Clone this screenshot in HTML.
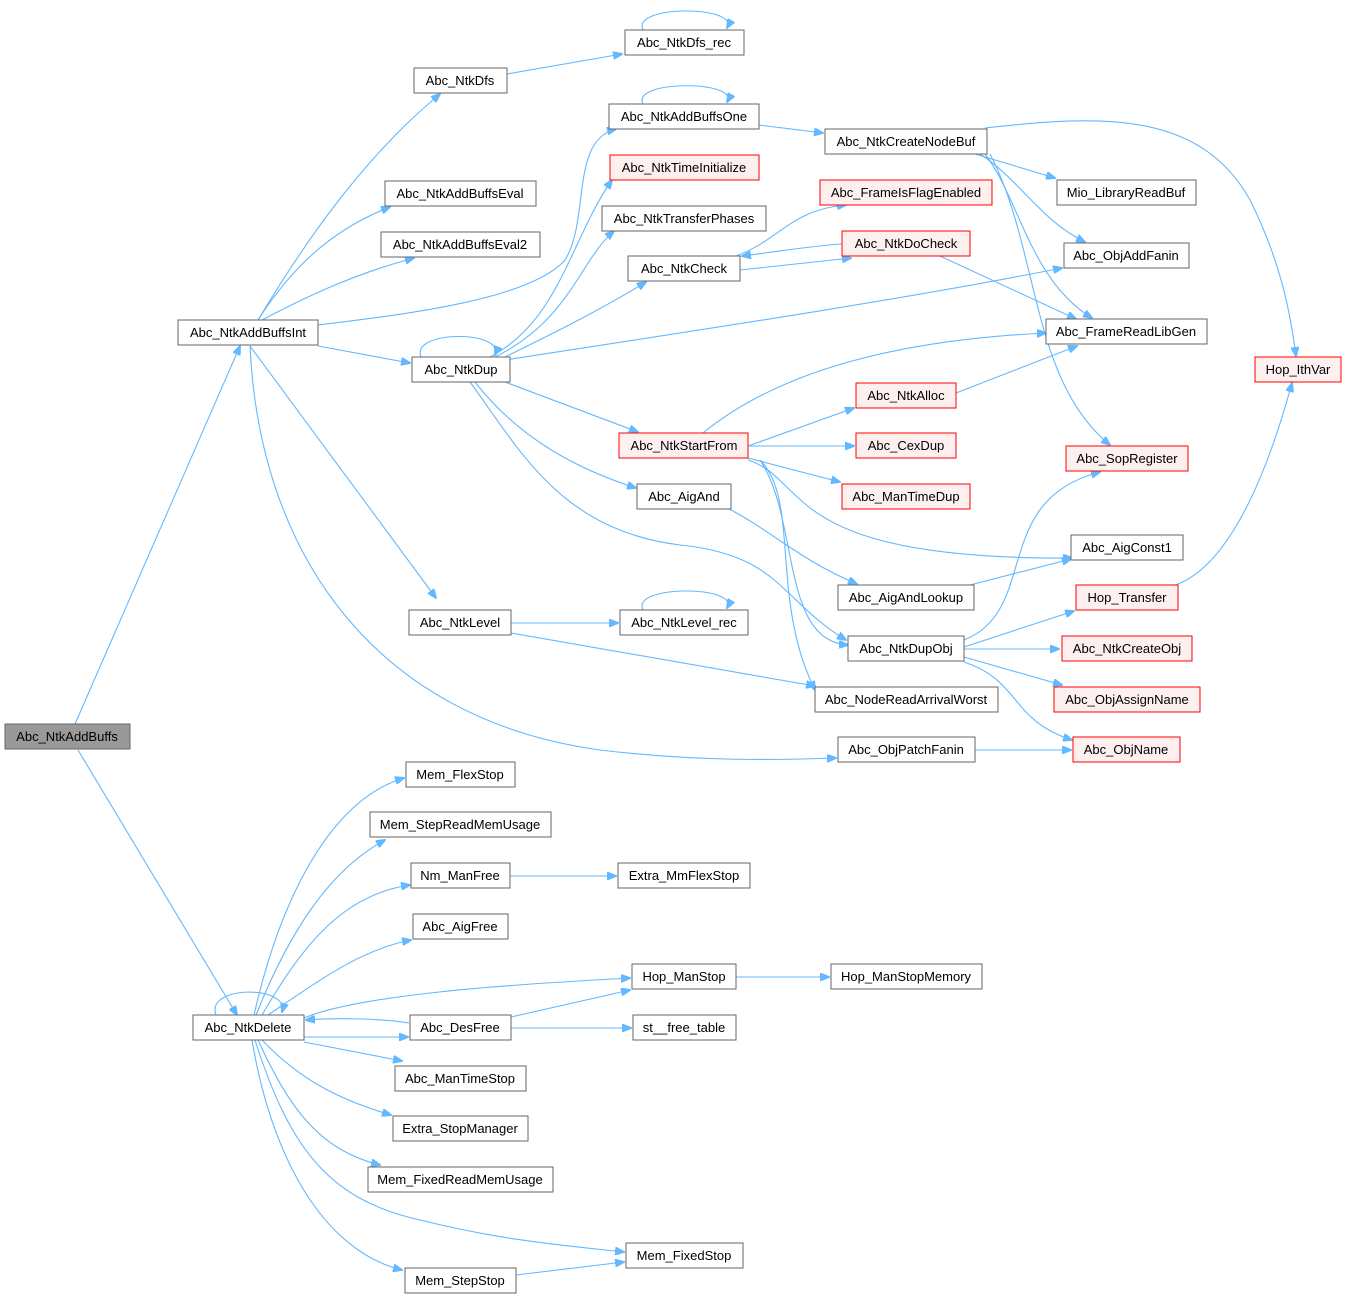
<!DOCTYPE html>
<html><head><meta charset="utf-8"><style>
html,body{margin:0;padding:0;background:#fff;}
svg{display:block;}
text{font-family:"Liberation Sans",Arial,sans-serif;font-size:13px;fill:#000;}
.n rect{fill:#fff;stroke:#666;stroke-width:1;}
.r rect{fill:#fff0f0;stroke:#f00;stroke-width:1;}
.g rect{fill:#999;stroke:#666;}
path{fill:none;stroke:#63b8ff;stroke-width:1.1;}
</style></head><body>
<svg width="1347" height="1300" viewBox="0 0 1347 1300" xmlns="http://www.w3.org/2000/svg">
<defs><marker id="a" markerWidth="10" markerHeight="8" refX="9" refY="4" orient="auto" markerUnits="userSpaceOnUse"><path d="M0,0 L10,4 L0,8 z" style="fill:#63b8ff;stroke:#63b8ff"/></marker></defs>
<g marker-end="url(#a)">
<path d="M75,724 L240,346"/>
<path d="M78,750 L237,1015"/>
<path d="M258,320 C300,250 360,160 440,94"/>
<path d="M258,320 C290,270 330,230 390,207"/>
<path d="M262,320 C300,300 350,275 414,258"/>
<path d="M318,325 C400,315 530,300 565,260 C590,220 570,140 616,129"/>
<path d="M318,346 L410,363"/>
<path d="M250,346 L436,598"/>
<path d="M250,346 C260,560 380,720 600,750 C700,762 780,760 836,758"/>
<path d="M507,74 L622,54"/>
<path d="M643,30 C630,5 740,5 727,28"/>
<path d="M643,104 C630,80 740,80 727,102"/>
<path d="M759,125 L823,133"/>
<path d="M985,128 C1100,115 1200,110 1250,200 C1280,260 1290,310 1296,356"/>
<path d="M975,154 L1055,178"/>
<path d="M980,154 C1020,180 1040,220 1085,242"/>
<path d="M985,154 C1020,200 1030,280 1092,318"/>
<path d="M990,154 C1040,250 1030,380 1110,445"/>
<path d="M421,357 C410,330 505,330 495,355"/>
<path d="M490,357 C560,320 570,240 612,180"/>
<path d="M495,357 C570,320 580,260 614,231"/>
<path d="M505,357 C560,330 600,310 646,282"/>
<path d="M505,360 C700,330 900,300 1062,268"/>
<path d="M505,382 L638,432"/>
<path d="M475,382 C520,440 580,470 636,488"/>
<path d="M470,382 C520,450 560,530 680,545 C780,555 780,600 846,640"/>
<path d="M740,270 L851,258"/>
<path d="M736,256 C780,240 790,210 846,205"/>
<path d="M842,244 C810,246 790,250 742,256"/>
<path d="M940,256 L1076,319"/>
<path d="M703,433 C780,370 900,340 1046,333"/>
<path d="M748,446 L854,408"/>
<path d="M748,446 L854,446"/>
<path d="M748,458 L840,482"/>
<path d="M748,460 C810,480 780,560 1072,558"/>
<path d="M760,460 C800,520 780,640 848,645"/>
<path d="M760,460 C800,500 770,600 815,690"/>
<path d="M956,393 L1077,346"/>
<path d="M729,509 C770,530 800,560 857,584"/>
<path d="M970,585 L1071,559"/>
<path d="M964,640 C1040,610 990,500 1100,472"/>
<path d="M964,647 L1074,611"/>
<path d="M964,649 L1059,649"/>
<path d="M964,657 L1062,685"/>
<path d="M964,662 C1020,680 1010,720 1072,740"/>
<path d="M1175,585 C1220,570 1260,500 1292,383"/>
<path d="M511,623 L618,623"/>
<path d="M643,610 C630,585 740,585 727,608"/>
<path d="M511,633 L815,686"/>
<path d="M975,750 L1071,750"/>
<path d="M254,1015 C280,900 330,800 404,778"/>
<path d="M256,1015 C290,930 330,870 385,840"/>
<path d="M262,1015 C300,950 340,895 410,885"/>
<path d="M268,1015 C320,980 360,950 411,940"/>
<path d="M304,1018 C360,995 500,985 630,978"/>
<path d="M409,1023 C380,1018 330,1018 306,1020"/>
<path d="M304,1037 L408,1037"/>
<path d="M304,1042 L402,1061"/>
<path d="M262,1040 C300,1080 340,1100 391,1115"/>
<path d="M258,1040 C290,1110 320,1150 380,1165"/>
<path d="M255,1040 C290,1150 330,1200 420,1220 C500,1240 560,1245 624,1252"/>
<path d="M252,1040 C270,1150 320,1250 402,1270"/>
<path d="M216,1015 C205,985 290,985 282,1012"/>
<path d="M510,876 L616,876"/>
<path d="M511,1017 L630,990"/>
<path d="M511,1028 L631,1028"/>
<path d="M736,977 L829,977"/>
<path d="M516,1275 L624,1262"/>
</g>
<g class="g"><rect x="5" y="724" width="125" height="25"/><text x="67" y="741" text-anchor="middle">Abc_NtkAddBuffs</text></g>
<g>
<g class="n"><rect x="178" y="320" width="140" height="25"/><text x="248" y="337" text-anchor="middle">Abc_NtkAddBuffsInt</text></g>
<g class="n"><rect x="193" y="1015" width="111" height="25"/><text x="248" y="1032" text-anchor="middle">Abc_NtkDelete</text></g>
<g class="n"><rect x="414" y="68" width="93" height="25"/><text x="460" y="85" text-anchor="middle">Abc_NtkDfs</text></g>
<g class="n"><rect x="625" y="30" width="119" height="25"/><text x="684" y="47" text-anchor="middle">Abc_NtkDfs_rec</text></g>
<g class="n"><rect x="385" y="181" width="151" height="25"/><text x="460" y="198" text-anchor="middle">Abc_NtkAddBuffsEval</text></g>
<g class="n"><rect x="381" y="232" width="159" height="25"/><text x="460" y="249" text-anchor="middle">Abc_NtkAddBuffsEval2</text></g>
<g class="n"><rect x="609" y="104" width="150" height="25"/><text x="684" y="121" text-anchor="middle">Abc_NtkAddBuffsOne</text></g>
<g class="r"><rect x="610" y="155" width="149" height="25"/><text x="684" y="172" text-anchor="middle">Abc_NtkTimeInitialize</text></g>
<g class="n"><rect x="602" y="206" width="164" height="25"/><text x="684" y="223" text-anchor="middle">Abc_NtkTransferPhases</text></g>
<g class="n"><rect x="628" y="256" width="112" height="25"/><text x="684" y="273" text-anchor="middle">Abc_NtkCheck</text></g>
<g class="n"><rect x="412" y="357" width="98" height="25"/><text x="461" y="374" text-anchor="middle">Abc_NtkDup</text></g>
<g class="r"><rect x="619" y="433" width="129" height="25"/><text x="684" y="450" text-anchor="middle">Abc_NtkStartFrom</text></g>
<g class="n"><rect x="637" y="484" width="94" height="25"/><text x="684" y="501" text-anchor="middle">Abc_AigAnd</text></g>
<g class="n"><rect x="409" y="610" width="102" height="25"/><text x="460" y="627" text-anchor="middle">Abc_NtkLevel</text></g>
<g class="n"><rect x="620" y="610" width="128" height="25"/><text x="684" y="627" text-anchor="middle">Abc_NtkLevel_rec</text></g>
<g class="n"><rect x="825" y="129" width="162" height="25"/><text x="906" y="146" text-anchor="middle">Abc_NtkCreateNodeBuf</text></g>
<g class="r"><rect x="820" y="180" width="172" height="25"/><text x="906" y="197" text-anchor="middle">Abc_FrameIsFlagEnabled</text></g>
<g class="r"><rect x="842" y="231" width="128" height="25"/><text x="906" y="248" text-anchor="middle">Abc_NtkDoCheck</text></g>
<g class="r"><rect x="856" y="383" width="100" height="25"/><text x="906" y="400" text-anchor="middle">Abc_NtkAlloc</text></g>
<g class="r"><rect x="856" y="433" width="100" height="25"/><text x="906" y="450" text-anchor="middle">Abc_CexDup</text></g>
<g class="r"><rect x="842" y="484" width="128" height="25"/><text x="906" y="501" text-anchor="middle">Abc_ManTimeDup</text></g>
<g class="n"><rect x="838" y="585" width="136" height="25"/><text x="906" y="602" text-anchor="middle">Abc_AigAndLookup</text></g>
<g class="n"><rect x="848" y="636" width="116" height="25"/><text x="906" y="653" text-anchor="middle">Abc_NtkDupObj</text></g>
<g class="n"><rect x="815" y="687" width="183" height="25"/><text x="906" y="704" text-anchor="middle">Abc_NodeReadArrivalWorst</text></g>
<g class="n"><rect x="838" y="737" width="137" height="25"/><text x="906" y="754" text-anchor="middle">Abc_ObjPatchFanin</text></g>
<g class="n"><rect x="1057" y="180" width="139" height="25"/><text x="1126" y="197" text-anchor="middle">Mio_LibraryReadBuf</text></g>
<g class="n"><rect x="1064" y="243" width="125" height="25"/><text x="1126" y="260" text-anchor="middle">Abc_ObjAddFanin</text></g>
<g class="n"><rect x="1046" y="319" width="161" height="25"/><text x="1126" y="336" text-anchor="middle">Abc_FrameReadLibGen</text></g>
<g class="r"><rect x="1066" y="446" width="122" height="25"/><text x="1127" y="463" text-anchor="middle">Abc_SopRegister</text></g>
<g class="n"><rect x="1071" y="535" width="112" height="25"/><text x="1127" y="552" text-anchor="middle">Abc_AigConst1</text></g>
<g class="r"><rect x="1076" y="585" width="102" height="25"/><text x="1127" y="602" text-anchor="middle">Hop_Transfer</text></g>
<g class="r"><rect x="1062" y="636" width="130" height="25"/><text x="1127" y="653" text-anchor="middle">Abc_NtkCreateObj</text></g>
<g class="r"><rect x="1054" y="687" width="146" height="25"/><text x="1127" y="704" text-anchor="middle">Abc_ObjAssignName</text></g>
<g class="r"><rect x="1073" y="737" width="107" height="25"/><text x="1126" y="754" text-anchor="middle">Abc_ObjName</text></g>
<g class="r"><rect x="1255" y="357" width="86" height="25"/><text x="1298" y="374" text-anchor="middle">Hop_IthVar</text></g>
<g class="n"><rect x="406" y="762" width="109" height="25"/><text x="460" y="779" text-anchor="middle">Mem_FlexStop</text></g>
<g class="n"><rect x="370" y="812" width="181" height="25"/><text x="460" y="829" text-anchor="middle">Mem_StepReadMemUsage</text></g>
<g class="n"><rect x="411" y="863" width="99" height="25"/><text x="460" y="880" text-anchor="middle">Nm_ManFree</text></g>
<g class="n"><rect x="618" y="863" width="132" height="25"/><text x="684" y="880" text-anchor="middle">Extra_MmFlexStop</text></g>
<g class="n"><rect x="413" y="914" width="95" height="25"/><text x="460" y="931" text-anchor="middle">Abc_AigFree</text></g>
<g class="n"><rect x="632" y="964" width="104" height="25"/><text x="684" y="981" text-anchor="middle">Hop_ManStop</text></g>
<g class="n"><rect x="831" y="964" width="151" height="25"/><text x="906" y="981" text-anchor="middle">Hop_ManStopMemory</text></g>
<g class="n"><rect x="410" y="1015" width="101" height="25"/><text x="460" y="1032" text-anchor="middle">Abc_DesFree</text></g>
<g class="n"><rect x="633" y="1015" width="103" height="25"/><text x="684" y="1032" text-anchor="middle">st__free_table</text></g>
<g class="n"><rect x="395" y="1066" width="131" height="25"/><text x="460" y="1083" text-anchor="middle">Abc_ManTimeStop</text></g>
<g class="n"><rect x="393" y="1116" width="135" height="25"/><text x="460" y="1133" text-anchor="middle">Extra_StopManager</text></g>
<g class="n"><rect x="368" y="1167" width="185" height="25"/><text x="460" y="1184" text-anchor="middle">Mem_FixedReadMemUsage</text></g>
<g class="n"><rect x="626" y="1243" width="117" height="25"/><text x="684" y="1260" text-anchor="middle">Mem_FixedStop</text></g>
<g class="n"><rect x="405" y="1268" width="111" height="25"/><text x="460" y="1285" text-anchor="middle">Mem_StepStop</text></g>
</g>
</svg>
</body></html>
